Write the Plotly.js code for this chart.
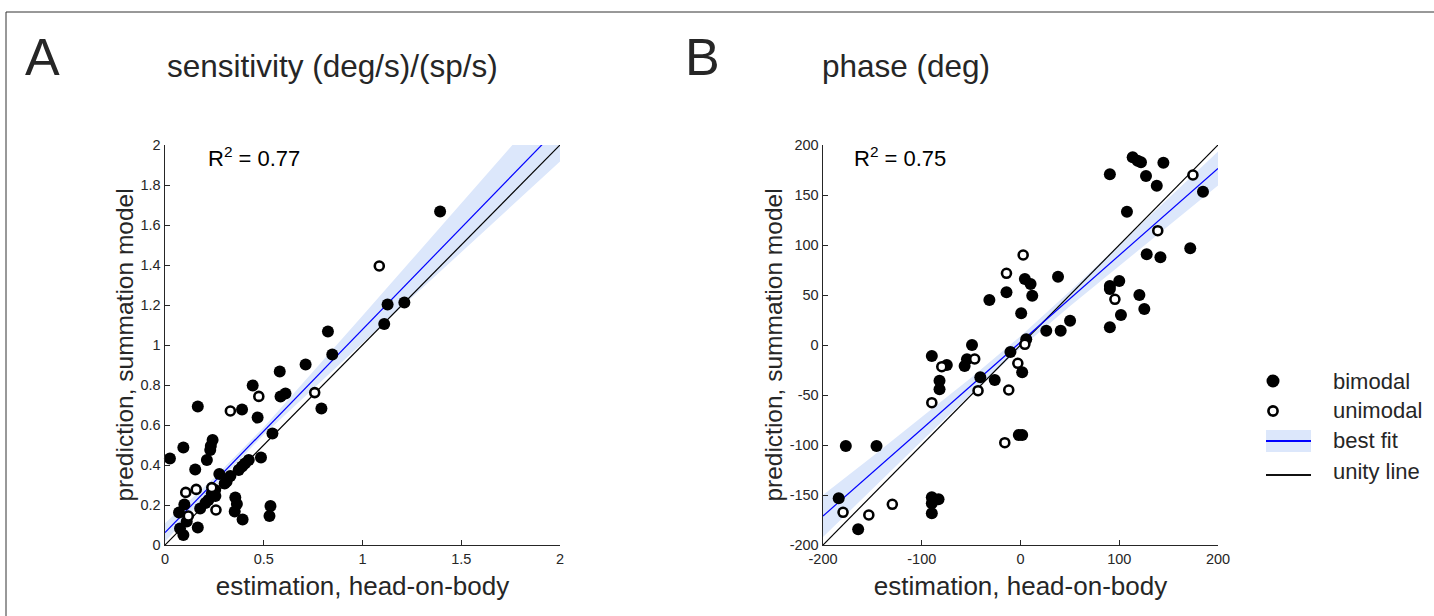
<!DOCTYPE html>
<html>
<head>
<meta charset="utf-8">
<script src="https://cdn.plot.ly/plotly-3.0.1.min.js"></script>
<style>
html, body { margin: 0; padding: 0; background: #ffffff; }
#chart { width: 1434px; height: 616px; }
</style>
</head>
<body>
<div id="chart"></div>
<script>
// ---------------- Panel A: sensitivity ----------------
const sensBiX = [1.393,1.127,1.212,1.110,0.825,0.847,0.712,0.581,0.444,0.585,0.610,0.792,0.390,0.166,0.469,0.544,0.093,0.241,0.232,0.229,0.025,0.212,0.153,0.424,0.486,0.390,0.373,0.275,0.331,0.302,0.237,0.254,0.220,0.178,0.356,0.364,0.353,0.393,0.534,0.529,0.098,0.071,0.166,0.076,0.093,0.110,0.205,0.255,0.312,0.405];
const sensBiY = [1.667,1.202,1.213,1.105,1.068,0.952,0.903,0.868,0.798,0.742,0.758,0.682,0.678,0.692,0.637,0.558,0.487,0.525,0.495,0.475,0.433,0.425,0.378,0.425,0.437,0.392,0.375,0.355,0.345,0.308,0.258,0.275,0.225,0.183,0.238,0.205,0.167,0.128,0.195,0.145,0.203,0.163,0.087,0.083,0.050,0.117,0.210,0.245,0.318,0.408];
const sensUniX = [1.085,0.758,0.475,0.331,0.105,0.158,0.237,0.258,0.118];
const sensUniY = [1.395,0.762,0.743,0.670,0.263,0.278,0.287,0.175,0.145];
const sensFitX = [0,0.25,0.5,0.75,1,1.25,1.5,1.75,2];
const sensFitY = [0.062,0.316,0.570,0.824,1.078,1.332,1.586,1.840,2.094];
const sensBandHi = [0.109,0.338,0.589,0.865,1.146,1.427,1.708,1.989,2.271];
const sensBandLo = [0.016,0.294,0.551,0.783,1.010,1.237,1.464,1.691,1.917];
const sensUnityX = [0,2];
const sensUnityY = [0,2];
const sensTickVals = [0,0.2,0.4,0.6,0.8,1,1.2,1.4,1.6,1.8,2];
const sensTickText = ['0','0.2','0.4','0.6','0.8','1','1.2','1.4','1.6','1.8','2'];
const sensXTickVals = [0,0.5,1,1.5,2];
const sensXTickText = ['0','0.5','1','1.5','2'];
const sensR2 = '0.77';

// ---------------- Panel B: phase ----------------
const phaseBiX = [113.6,118.6,122.0,144.7,90.5,127.1,138.0,184.8,107.8,127.8,141.7,171.9,38.0,4.4,10.2,11.9,-14.2,-31.5,0.7,90.5,100.0,90.5,120.4,125.4,101.7,90.5,50.2,26.1,40.7,5.8,-10.2,-49.1,-54.2,-56.6,-74.6,-89.8,-82.0,-82.0,-40.7,-26.1,1.7,-1.7,1.7,-176.9,-145.8,-184.1,-89.8,-83.0,-89.8,-89.8,-164.4];
const phaseBiY = [187.7,184.3,182.7,182.3,170.7,169.0,159.3,153.3,133.3,90.7,87.7,96.7,68.3,66.0,61.0,49.3,52.7,45.0,31.7,59.0,64.0,56.0,50.0,36.0,30.0,17.7,24.3,14.3,14.3,5.7,-7.0,0.0,-14.3,-21.0,-20.0,-11.0,-35.7,-44.3,-32.3,-35.0,-27.3,-90.0,-90.0,-101.0,-101.0,-153.3,-152.3,-154.3,-158.3,-168.3,-184.3];
const phaseUniX = [174.6,139.0,2.7,-14.2,95.6,4.4,-46.4,-79.7,-2.7,-43.0,-11.9,-89.8,-15.9,-129.8,-179.7,-153.6];
const phaseUniY = [170.0,114.3,90.0,71.7,45.7,0.7,-14.0,-21.7,-18.3,-45.7,-45.0,-57.7,-97.7,-159.3,-167.3,-170.0];
const phaseFitX = [-200,-150,-100,-50,0,50,100,150,200];
const phaseFitY = [-171.0,-127.55,-84.1,-40.65,2.8,46.25,89.7,133.15,176.6];
const phaseBandHi = [-150.0,-111.55,-72.1,-32.65,8.8,53.75,100.2,147.15,193.6];
const phaseBandLo = [-192.0,-143.55,-96.1,-48.65,-3.2,38.75,79.2,119.15,159.6];
const phaseUnityX = [-200,200];
const phaseUnityY = [-200,200];
const phaseYTickVals = [-200,-150,-100,-50,0,50,100,150,200];
const phaseYTickText = ['-200','-150','-100','-50','0','50','100','150','200'];
const phaseXTickVals = [-200,-100,0,100,200];
const phaseXTickText = ['-200','-100','0','100','200'];
const phaseR2 = '0.75';

// ---------------- Text ----------------
const panelLetters = ['A','B'];
const panelTitles = ['sensitivity (deg/s)/(sp/s)','phase (deg)'];
const xTitle = 'estimation, head-on-body';
const yTitle = 'prediction, summation model';
const legendLabels = ['bimodal','unimodal','best fit','unity line'];

// ---------------- Styling ----------------
const W = 1434, H = 616;
const FONT = 'Liberation Sans, Arial, Helvetica, sans-serif';
const INK = '#262626';
const BAND = '#dce7fb';
const px = v => v / W;
const py = v => 1 - v / H;

function panelTraces(xa, ya, biX, biY, uniX, uniY, fitX, fitY, lo, hi, ux, uy) {
  return [
    {x: fitX, y: lo, xaxis: xa, yaxis: ya, mode: 'lines', line: {width: 0, color: BAND}, hoverinfo: 'skip', showlegend: false},
    {x: fitX, y: hi, xaxis: xa, yaxis: ya, mode: 'lines', line: {width: 0, color: BAND}, fill: 'tonexty', fillcolor: BAND, hoverinfo: 'skip', showlegend: false},
    {x: ux, y: uy, xaxis: xa, yaxis: ya, mode: 'lines', line: {width: 1.2, color: '#000000'}, showlegend: false},
    {x: fitX, y: fitY, xaxis: xa, yaxis: ya, mode: 'lines', line: {width: 1.2, color: '#0000ff'}, showlegend: false},
    {x: biX, y: biY, xaxis: xa, yaxis: ya, mode: 'markers', cliponaxis: false,
     marker: {symbol: 'circle', size: 12, color: '#000000', line: {width: 0}}, showlegend: false},
    {x: uniX, y: uniY, xaxis: xa, yaxis: ya, mode: 'markers', cliponaxis: false,
     marker: {symbol: 'circle', size: 9, color: '#ffffff', line: {width: 2.6, color: '#000000'}}, showlegend: false}
  ];
}

const data = [].concat(
  panelTraces('x', 'y', sensBiX, sensBiY, sensUniX, sensUniY, sensFitX, sensFitY, sensBandLo, sensBandHi, sensUnityX, sensUnityY),
  panelTraces('x2', 'y2', phaseBiX, phaseBiY, phaseUniX, phaseUniY, phaseFitX, phaseFitY, phaseBandLo, phaseBandHi, phaseUnityX, phaseUnityY)
);

const axBase = {
  showline: true, linecolor: INK, linewidth: 1.4,
  ticks: 'inside', ticklen: 5, tickwidth: 1, tickcolor: INK,
  showgrid: false, zeroline: false, mirror: false, fixedrange: true,
  tickfont: {family: FONT, size: 14.5, color: INK}
};
const xTitleFont = {family: FONT, size: 26, color: INK};
const yTitleFont = {family: FONT, size: 24.5, color: INK};

const layout = {
  width: W, height: H,
  margin: {l: 0, r: 0, t: 0, b: 0},
  paper_bgcolor: '#ffffff', plot_bgcolor: '#ffffff',
  showlegend: false,
  xaxis: Object.assign({}, axBase, {domain: [px(165), px(560)], range: [0, 2], anchor: 'y',
    tickmode: 'array', tickvals: sensXTickVals, ticktext: sensXTickText,
    title: {text: xTitle, font: xTitleFont, standoff: 11}}),
  yaxis: Object.assign({}, axBase, {domain: [1 - 545 / H, 1 - 145 / H], range: [0, 2], anchor: 'x',
    tickmode: 'array', tickvals: sensTickVals, ticktext: sensTickText,
    title: {text: yTitle, font: yTitleFont, standoff: 0}}),
  xaxis2: Object.assign({}, axBase, {domain: [px(823), px(1218)], range: [-200, 200], anchor: 'y2',
    tickmode: 'array', tickvals: phaseXTickVals, ticktext: phaseXTickText,
    title: {text: xTitle, font: xTitleFont, standoff: 11}}),
  yaxis2: Object.assign({}, axBase, {domain: [1 - 545 / H, 1 - 145 / H], range: [-200, 200], anchor: 'x2',
    tickmode: 'array', tickvals: phaseYTickVals, ticktext: phaseYTickText,
    title: {text: yTitle, font: yTitleFont, standoff: 0}}),
  annotations: [
    {xref: 'paper', yref: 'paper', x: px(23), y: py(57), xanchor: 'left', yanchor: 'middle', showarrow: false,
     text: panelLetters[0], font: {family: FONT, size: 52, color: INK}},
    {xref: 'paper', yref: 'paper', x: px(165), y: py(66), xanchor: 'left', yanchor: 'middle', showarrow: false,
     text: panelTitles[0], font: {family: FONT, size: 31.5, color: INK}},
    {xref: 'paper', yref: 'paper', x: px(683), y: py(57), xanchor: 'left', yanchor: 'middle', showarrow: false,
     text: panelLetters[1], font: {family: FONT, size: 52, color: INK}},
    {xref: 'paper', yref: 'paper', x: px(820), y: py(66), xanchor: 'left', yanchor: 'middle', showarrow: false,
     text: panelTitles[1], font: {family: FONT, size: 31.5, color: INK}},
    {xref: 'paper', yref: 'paper', x: px(206), y: py(157), xanchor: 'left', yanchor: 'middle', showarrow: false,
     text: 'R<sup>2</sup> = ' + sensR2, font: {family: FONT, size: 22, color: '#000000'}},
    {xref: 'paper', yref: 'paper', x: px(852), y: py(157), xanchor: 'left', yanchor: 'middle', showarrow: false,
     text: 'R<sup>2</sup> = ' + phaseR2, font: {family: FONT, size: 22, color: '#000000'}},
    {xref: 'paper', yref: 'paper', x: px(1331), y: py(381), xanchor: 'left', yanchor: 'middle', showarrow: false,
     text: legendLabels[0], font: {family: FONT, size: 22, color: INK}},
    {xref: 'paper', yref: 'paper', x: px(1331), y: py(410), xanchor: 'left', yanchor: 'middle', showarrow: false,
     text: legendLabels[1], font: {family: FONT, size: 22, color: INK}},
    {xref: 'paper', yref: 'paper', x: px(1331), y: py(440), xanchor: 'left', yanchor: 'middle', showarrow: false,
     text: legendLabels[2], font: {family: FONT, size: 22, color: INK}},
    {xref: 'paper', yref: 'paper', x: px(1331), y: py(471), xanchor: 'left', yanchor: 'middle', showarrow: false,
     text: legendLabels[3], font: {family: FONT, size: 22, color: INK}}
  ],
  shapes: [
    // outer frame
    {type: 'rect', xref: 'paper', yref: 'paper', x0: px(6), x1: 1.05, y0: -0.05, y1: py(12),
     line: {color: '#333333', width: 1}, fillcolor: 'rgba(0,0,0,0)', layer: 'below'},
    // legend symbols
    {type: 'circle', xref: 'paper', yref: 'paper', xsizemode: 'pixel', ysizemode: 'pixel',
     xanchor: px(1273), yanchor: py(381), x0: -6.5, x1: 6.5, y0: -6.5, y1: 6.5,
     fillcolor: '#000000', line: {width: 0}},
    {type: 'circle', xref: 'paper', yref: 'paper', xsizemode: 'pixel', ysizemode: 'pixel',
     xanchor: px(1273), yanchor: py(411), x0: -4.6, x1: 4.6, y0: -4.6, y1: 4.6,
     fillcolor: '#ffffff', line: {width: 2.6, color: '#000000'}},
    {type: 'rect', xref: 'paper', yref: 'paper', x0: px(1266), x1: px(1311), y0: py(452), y1: py(430),
     fillcolor: BAND, line: {width: 0}},
    {type: 'line', xref: 'paper', yref: 'paper', x0: px(1266), x1: px(1311), y0: py(441), y1: py(441),
     line: {width: 2, color: '#0000ff'}},
    {type: 'line', xref: 'paper', yref: 'paper', x0: px(1266), x1: px(1311), y0: py(475), y1: py(475),
     line: {width: 2, color: '#111111'}}
  ]
};

Plotly.newPlot('chart', data, layout, {displayModeBar: false, staticPlot: true});
</script>
</body>
</html>
